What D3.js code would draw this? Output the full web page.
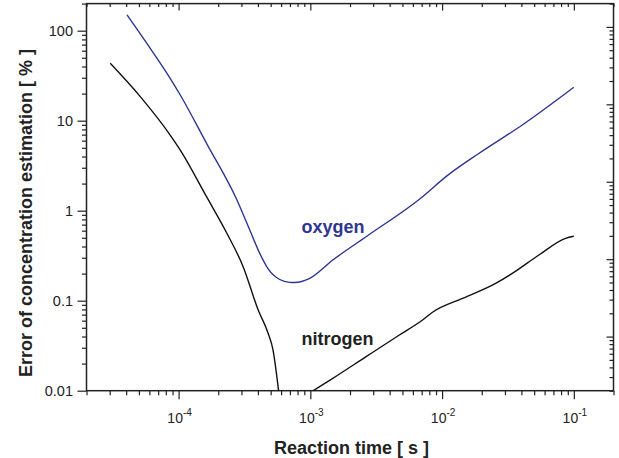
<!DOCTYPE html>
<html>
<head>
<meta charset="utf-8">
<script src="https://cdn.jsdelivr.net/npm/d3@7/dist/d3.min.js"></script>
<style>
  html, body { margin: 0; padding: 0; background: #fff; }
  svg { display: block; font-family: "Liberation Sans", Arial, Helvetica, sans-serif; }
</style>
</head>
<body>
<svg id="chart" width="619" height="458"></svg>
<script>
// ---- data ----
const oxygenTime  = [4.06e-5, 5.74e-5, 8.63e-5, 1.03e-4, 1.63e-4, 2.75e-4, 3.47e-4, 4.13e-4, 4.73e-4, 5.3e-4, 5.86e-4, 6.97e-4, 7.6e-4, 9.9e-4, 1.48e-3, 2.65e-3, 7.11e-3, 1.07e-2, 1.91e-2, 4.06e-2, 0.1];
const oxygenError = [150, 72.4, 29.6, 19.3, 5.6, 1.35, 0.611, 0.336, 0.232, 0.190, 0.172, 0.160, 0.159, 0.177, 0.283, 0.514, 1.43, 2.39, 4.35, 8.95, 23.5];

const nitrogenTimeA  = [3.03e-5, 5.12e-5, 8.63e-5, 1.03e-4, 1.63e-4, 2.32e-4, 3.09e-4, 4.02e-4, 4.78e-4, 5.21e-4, 5.75e-4];
const nitrogenErrorA = [43.4, 18.5, 6.93, 4.72, 1.43, 0.565, 0.239, 0.0788, 0.0435, 0.0283, 0.0098];
const nitrogenTimeB  = [1.04e-3, 1.48e-3, 2.65e-3, 4.74e-3, 7.11e-3, 8.46e-3, 1.43e-2, 2.55e-2, 3.41e-2, 5.43e-2, 8.65e-2, 0.1];
const nitrogenErrorB = [0.0099, 0.0137, 0.0239, 0.0416, 0.0611, 0.0745, 0.106, 0.156, 0.201, 0.322, 0.493, 0.52];

const xDomain = [2e-5, 0.2];
const yDomain = [0.01, 200];
const yRightDomain = [0.002, 200];
const yMajorLabels = ["0.01", "0.1", "1", "10", "100"];
const xMajorExps = ["-4", "-3", "-2", "-1"];

const xTitle = "Reaction time [ s ]";
const yTitle = "Error of concentration estimation [ % ]";
const seriesNames = ["oxygen", "nitrogen"];
const seriesColors = ["#2e3592", "#111111"];

// ---- layout ----
const L = 86.5, R = 613.5, T = 3.6, B = 390.7;
const svg = d3.select("#chart");

const x = d3.scaleLog().domain(xDomain).range([L, R]);
const y = d3.scaleLog().domain(yDomain).range([B, T]);
const yR = d3.scaleLog().domain(yRightDomain).range([B, T]);

const isMajor = v => Math.abs(Math.log10(v) - Math.round(Math.log10(v))) < 1e-6;

function drawAxis(axisGen, scale, transform, majorSize, minorSize) {
  const all = scale.ticks();
  const minors = all.filter(v => !isMajor(v));
  const majors = all.filter(isMajor);
  const gMin = svg.append("g").attr("transform", transform)
    .call(axisGen(scale).tickValues(minors).tickSize(minorSize).tickFormat(""));
  const gMaj = svg.append("g").attr("transform", transform)
    .call(axisGen(scale).tickValues(majors).tickSize(majorSize).tickFormat(""));
  [gMin, gMaj].forEach(g => {
    g.select(".domain").remove();
    g.selectAll(".tick line").attr("stroke", "#222").attr("stroke-width", 1.2);
  });
  return gMaj;
}

// minor/major ticks
drawAxis(d3.axisLeft, y, `translate(${L},0)`, 9, 4.5);
drawAxis(d3.axisBottom, x, `translate(0,${B})`, 8.5, 4.5);
drawAxis(d3.axisBottom, x, `translate(0,${T})`, 7, 3.5);
drawAxis(d3.axisLeft, yR, `translate(${R},0)`, 7, 4);

// left labels
const yMajors = y.ticks().filter(isMajor);
svg.append("g").selectAll("text").data(yMajors).join("text")
  .attr("x", L - 13.5)
  .attr("y", d => y(d))
  .attr("dy", "0.35em")
  .attr("text-anchor", "end")
  .attr("font-size", 14.5)
  .attr("fill", "#222")
  .text((d, i) => yMajorLabels[i]);

// bottom labels 10^n
const xMajors = x.ticks().filter(isMajor);
const xl = svg.append("g").selectAll("text").data(xMajors).join("text")
  .attr("x", d => x(d) + 1)
  .attr("y", B + 32.5)
  .attr("text-anchor", "middle")
  .attr("font-size", 14)
  .attr("fill", "#222");
xl.append("tspan").text("10");
xl.append("tspan").attr("font-size", 10).attr("dy", -7).text((d, i) => xMajorExps[i]);

// frame
svg.append("rect")
  .attr("x", L).attr("y", T).attr("width", R - L).attr("height", B - T)
  .attr("fill", "none").attr("stroke", "#222").attr("stroke-width", 1.5);

// clip
svg.append("clipPath").attr("id", "clip").append("rect")
  .attr("x", L).attr("y", T).attr("width", R - L).attr("height", B - T);

const line = d3.line().x(d => x(d[0])).y(d => y(d[1])).curve(d3.curveMonotoneX);
const plot = svg.append("g").attr("clip-path", "url(#clip)");

plot.append("path").datum(d3.zip(oxygenTime, oxygenError))
  .attr("d", line).attr("fill", "none").attr("stroke", seriesColors[0]).attr("stroke-width", 1.4);
plot.append("path").datum(d3.zip(nitrogenTimeA, nitrogenErrorA))
  .attr("d", line).attr("fill", "none").attr("stroke", seriesColors[1]).attr("stroke-width", 1.4);
plot.append("path").datum(d3.zip(nitrogenTimeB, nitrogenErrorB))
  .attr("d", line).attr("fill", "none").attr("stroke", seriesColors[1]).attr("stroke-width", 1.4);

// series labels
svg.append("text").attr("x", 301.5).attr("y", 232.5)
  .attr("font-size", 18).attr("font-weight", "bold").attr("fill", seriesColors[0]).text(seriesNames[0]);
svg.append("text").attr("x", 301.5).attr("y", 344.5)
  .attr("font-size", 18).attr("font-weight", "bold").attr("fill", "#222").text(seriesNames[1]);

// axis titles
svg.append("text").attr("x", (L + R) / 2 + 1.5).attr("y", 453.5)
  .attr("text-anchor", "middle").attr("font-size", 18).attr("font-weight", "bold").attr("fill", "#222")
  .text(xTitle);
svg.append("text").attr("transform", "translate(31.5,213) rotate(-90)")
  .attr("text-anchor", "middle").attr("font-size", 18).attr("font-weight", "bold").attr("fill", "#222")
  .text(yTitle);
</script>
</body>
</html>
